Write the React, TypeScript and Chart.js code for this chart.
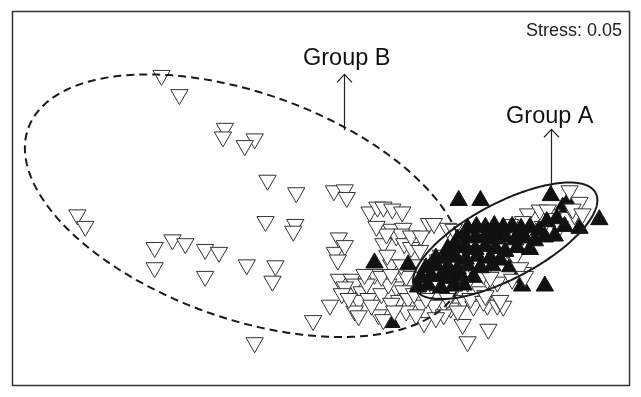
import { useEffect, useRef } from "react";
import { Chart, registerables } from "chart.js";

Chart.register(...registerables);

// NMDS scores, Group B (open, inverted triangles)
const groupBPoints: number[][] = [
  [-1.61, 1.28], [-1.43, 1.08], [-0.97, 0.73], [-0.99, 0.64], [-0.67, 0.62], [-0.77, 0.55],
  [-0.54, 0.19], [-0.25, 0.06], [-2.46, -0.17], [-2.38, -0.29], [-1.68, -0.51], [-1.5, -0.43],
  [-1.37, -0.47], [-1.17, -0.53], [-1.03, -0.56], [-1.68, -0.72], [-1.17, -0.81], [-0.75, -0.69],
  [-0.46, -0.7], [-0.49, -0.86], [-0.56, -0.24], [-0.26, -0.27], [-0.28, -0.34], [-0.08, -1.27],
  [-0.67, -1.5], [0.13, 0.08], [0.24, 0.09], [0.26, 0.01], [0.49, -0.14], [0.57, -0.09],
  [0.63, -0.09], [0.72, -0.11], [0.82, -0.14], [0.71, -0.32], [0.76, -0.39], [0.63, -0.47],
  [0.18, -0.41], [0.14, -0.56], [0.24, -0.49], [0.17, -0.64], [0.18, -0.84], [0.31, -0.84],
  [0.34, -0.89], [0.24, -0.92], [0.41, -0.97], [0.38, -1.06], [0.09, -1.11], [0.34, -1.17],
  [0.38, -1.22], [0.58, -1.21], [0.63, -1.26], [0.54, -0.79], [0.71, -0.69], [0.76, -0.92],
  [0.79, -1.06], [0.67, -0.59], [0.83, -0.31], [0.81, -0.37], [1.09, -0.26], [1.14, -0.26],
  [1.28, -0.31], [1.34, -0.32], [0.84, -0.47], [0.91, -0.51], [1.0, -0.54], [1.21, -0.59],
  [1.18, -0.64], [1.54, -0.37], [1.51, -0.47], [0.86, -0.81], [1.01, -0.89], [0.83, -0.96],
  [1.18, -1.01], [1.31, -1.01], [1.04, -1.29], [1.31, -1.14], [1.44, -1.06], [1.43, -1.31],
  [1.48, -1.49], [1.54, -1.12], [1.24, -1.09], [1.61, -0.97], [1.51, -0.69], [0.98, -0.69],
  [1.68, -1.11], [1.78, -1.11], [1.69, -1.36], [1.84, -1.12], [1.93, -0.84], [0.88, -1.04],
  [1.01, -1.11], [1.14, -1.11], [1.28, -1.04], [2.51, 0.08], [2.61, -0.04], [2.09, -0.16],
  [2.21, -0.12], [2.33, -0.17], [1.91, -0.54], [1.96, -0.61], [2.04, -0.77], [1.56, -0.54],
  [1.68, -0.84], [1.78, -0.87], [1.48, -0.87], [1.51, -1.04], [1.64, -1.07], [1.81, -1.06],
  [2.24, -0.29], [2.56, -0.17], [2.29, -0.12], [2.04, -0.24], [1.91, -0.27], [2.34, -0.21],
  [2.54, -0.11], [2.64, -0.16], [2.41, -0.29], [1.88, -0.52], [2.01, -0.72], [2.06, -0.81],
  [1.64, -0.79], [1.71, -0.82], [1.66, -1.01],
  [0.21, -0.99], [0.28, -1.04], [0.46, -0.89], [0.48, -1.04], [0.61, -0.99], [0.68, -0.89],
  [0.71, -1.09], [0.86, -1.17], [0.94, -0.99], [1.06, -1.04], [1.24, -1.21], [1.38, -1.17],
  [1.16, -1.24], [0.96, -1.21], [0.74, -1.17], [0.51, -1.11], [0.44, -0.79], [0.61, -0.81],
  [0.71, -0.79], [0.81, -0.69], [0.91, -0.39], [1.01, -0.39], [0.66, -0.37], [0.56, -0.29],
];

// NMDS scores, Group A (filled triangles) plotted beneath Group B
const groupAUnder: number[][] = [
  [1.48, -0.31], [1.57, -0.29], [1.66, -0.3], [1.75, -0.28], [1.84, -0.3], [1.93, -0.29],
  [2.02, -0.31], [2.11, -0.3], [2.2, -0.33], [2.28, -0.24], [2.38, -0.21], [2.46, -0.29],
  [2.36, -0.39], [1.38, -0.42], [1.46, -0.4], [1.56, -0.41], [1.66, -0.39], [1.76, -0.42],
  [1.86, -0.4], [1.96, -0.43], [2.06, -0.41], [2.16, -0.44], [2.26, -0.4], [1.28, -0.52],
  [1.36, -0.5], [1.46, -0.51], [1.56, -0.53], [1.66, -0.5], [1.76, -0.52], [1.86, -0.55],
  [1.98, -0.51], [2.11, -0.53], [1.16, -0.62], [1.26, -0.6], [1.36, -0.61], [1.46, -0.63],
  [1.58, -0.6], [1.71, -0.62], [1.81, -0.64], [0.88, -0.69], [1.06, -0.72], [1.16, -0.7],
  [1.28, -0.71], [1.38, -0.73], [1.48, -0.7], [1.61, -0.72], [1.73, -0.7], [1.01, -0.82],
  [1.11, -0.8], [1.21, -0.81], [1.31, -0.83], [1.41, -0.8], [1.54, -0.82], [0.98, -0.92],
  [1.08, -0.9], [1.21, -0.93], [1.34, -0.91], [1.44, -0.9],
];

// NMDS scores, Group A plotted on top
const groupAOver: number[][] = [
  [1.39, -0.02], [1.61, -0.02], [2.32, 0.03], [2.49, -0.04], [2.44, -0.09], [2.56, -0.09],
  [2.81, -0.22], [2.61, -0.31], [1.91, -0.71], [1.99, -0.82], [2.03, -0.91], [2.26, -0.91],
  [0.54, -0.67], [0.71, -1.29], [1.12, -0.68], [1.3, -0.76], [1.76, -0.34], [2.0, -0.36],
];

const axisXRange = [-3.12, 3.12];
const axisYRange = [-1.95, 1.95];

const ellipseB = { cx: -0.775, cy: -0.075, a: 2.325, b: 1.168, angleDeg: -20.6 };
const ellipseA = { cx: 1.86, cy: -0.44, a: 1.04, b: 0.39, angleDeg: 28.8 };

const groupLabels = [
  { text: "Group B", x: 0.26, y: 1.39, arrowX: 0.23, arrowFrom: 0.71, arrowTo: 1.29 },
  { text: "Group A", x: 2.31, y: 0.79, arrowX: 2.32, arrowFrom: 0.11, arrowTo: 0.72 },
];
const stressLabel = { text: "Stress: 0.05", x: 3.04, y: 1.69 };

const FONT = '"Liberation Sans", Arial, sans-serif';

const toPts = (arr: number[][]) => arr.map(([x, y]) => ({ x, y }));

const overlayPlugin = {
  id: "nmdsOverlay",
  afterDatasetsDraw(chart: any) {
    const { ctx, scales } = chart;
    const px = (v: number) => scales.x.getPixelForValue(v);
    const py = (v: number) => scales.y.getPixelForValue(v);
    const drawEllipse = (e: any, dash: number[], width: number) => {
      const phi = (e.angleDeg * Math.PI) / 180;
      ctx.save();
      ctx.beginPath();
      for (let i = 0; i <= 360; i++) {
        const t = (i * Math.PI) / 180;
        const dx = e.a * Math.cos(t);
        const dy = e.b * Math.sin(t);
        const x = e.cx + dx * Math.cos(phi) - dy * Math.sin(phi);
        const y = e.cy + dx * Math.sin(phi) + dy * Math.cos(phi);
        if (i === 0) ctx.moveTo(px(x), py(y));
        else ctx.lineTo(px(x), py(y));
      }
      ctx.setLineDash(dash);
      ctx.lineWidth = width;
      ctx.strokeStyle = "#1a1a1a";
      ctx.stroke();
      ctx.restore();
    };
    drawEllipse(ellipseB, [8, 5], 2);
    drawEllipse(ellipseA, [], 2);

    ctx.save();
    for (const g of groupLabels) {
      const ax = Math.round(px(g.arrowX)) + 0.5;
      const y0 = py(g.arrowFrom);
      const y1 = py(g.arrowTo);
      ctx.beginPath();
      ctx.strokeStyle = "#222";
      ctx.lineWidth = 1.2;
      ctx.moveTo(ax, y0);
      ctx.lineTo(ax, y1);
      ctx.moveTo(ax - 7.5, y1 + 8);
      ctx.lineTo(ax, y1);
      ctx.lineTo(ax + 7.5, y1 + 8);
      ctx.stroke();
      ctx.fillStyle = "#111";
      ctx.font = `23.5px ${FONT}`;
      ctx.textAlign = "center";
      ctx.textBaseline = "alphabetic";
      ctx.fillText(g.text, px(g.x), py(g.y));
    }
    ctx.font = `18px ${FONT}`;
    ctx.textAlign = "right";
    ctx.fillStyle = "#222";
    ctx.fillText(stressLabel.text, px(stressLabel.x), py(stressLabel.y));
    ctx.restore();
  },
  afterDraw(chart: any) {
    const { ctx, chartArea } = chart;
    ctx.save();
    ctx.strokeStyle = "#333";
    ctx.lineWidth = 1.5;
    ctx.strokeRect(
      chartArea.left + 0.5,
      chartArea.top + 0.5,
      chartArea.right - chartArea.left - 1,
      chartArea.bottom - chartArea.top - 1
    );
    ctx.restore();
  },
};

export default function App() {
  const ref = useRef<HTMLCanvasElement | null>(null);
  useEffect(() => {
    if (!ref.current) return;
    const openStyle = {
      pointStyle: "triangle",
      rotation: 180,
      radius: 10,
      borderWidth: 1,
      borderColor: "#333",
      backgroundColor: "#fff",
    };
    const filledStyle = {
      pointStyle: "triangle",
      rotation: 0,
      radius: 10,
      borderWidth: 1,
      borderColor: "#111",
      backgroundColor: "#111",
    };
    const chart = new Chart(ref.current, {
      type: "scatter",
      data: {
        datasets: [
          { label: "Group A", data: toPts(groupAUnder), ...filledStyle } as any,
          { label: "Group B", data: toPts(groupBPoints), ...openStyle } as any,
          { label: "Group A ", data: toPts(groupAOver), ...filledStyle } as any,
        ],
      },
      options: {
        animation: false,
        responsive: false,
        devicePixelRatio: 1,
        events: [],
        layout: { padding: { left: 12, right: 5, top: 6, bottom: 1 } },
        plugins: { legend: { display: false }, tooltip: { enabled: false } },
        scales: {
          x: { type: "linear", min: axisXRange[0], max: axisXRange[1], display: false },
          y: { type: "linear", min: axisYRange[0], max: axisYRange[1], display: false },
        },
      } as any,
      plugins: [overlayPlugin],
    });
    return () => chart.destroy();
  }, []);
  return (
    <div style={{ position: "fixed", left: 0, top: 0, width: 641, height: 397, background: "#fff" }}>
      <canvas ref={ref} width={641} height={397} style={{ width: 641, height: 397, display: "block" }} />
    </div>
  );
}
